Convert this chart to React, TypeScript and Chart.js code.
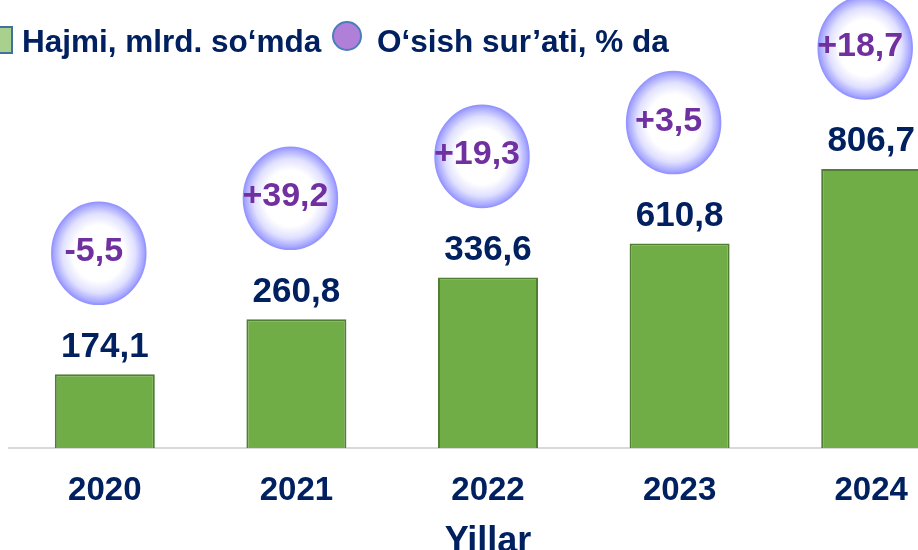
import React, { useEffect, useRef } from "react";
import { Chart, registerables } from "chart.js";

Chart.register(...registerables);

// ---- data ----
const years = ["2020", "2021", "2022", "2023", "2024"];
const volumeValues = [174.1, 260.8, 336.6, 610.8, 806.7]; // labels, mlrd. so'm
// heights of the bars as drawn in the source slide (it is not drawn to scale)
const barHeights = [213, 372, 493, 591, 806.7];
const growthRates = [-5.5, 39.2, 19.3, 3.5, 18.7]; // %
const legendLabels = ["Hajmi, mlrd. so\u2018mda", "O\u2018sish sur\u2019ati, % da"];
const axisTitle = "Yillar";

const FONT = '"Liberation Sans", Arial, Helvetica, sans-serif';
const NAVY = "#002060";
const PURPLE = "#7030A0";
const W = 975;
const H = 560;

const fmt = (v: number) => v.toFixed(1).replace(".", ",");
const fmtSigned = (v: number) => (v > 0 ? "+" : "") + fmt(v);

const overlayPlugin = {
  id: "overlay",
  afterDatasetsDraw(chart: any) {
    const ctx = chart.ctx as CanvasRenderingContext2D;
    const meta = chart.getDatasetMeta(0);
    meta.data.forEach((bar: any, i: number) => {
      const x = bar.x;
      const top = bar.y;
      ctx.save();
      // value label
      ctx.font = `bold 35px ${FONT}`;
      ctx.fillStyle = NAVY;
      ctx.textAlign = "center";
      ctx.textBaseline = "alphabetic";
      ctx.fillText(fmt(volumeValues[i]), x, top - 30 + 12.5);

      // growth bubble
      const cx = x - 6;
      const cy = top - 121;
      const rx = 47;
      const ry = 51;
      ctx.save();
      ctx.translate(cx, cy);
      ctx.scale(1, ry / rx);
      const g = ctx.createRadialGradient(0, 0, 0, 0, 0, rx);
      g.addColorStop(0, "#FFFFFF");
      g.addColorStop(0.55, "#FFFFFF");
      g.addColorStop(0.78, "#E0E0FF");
      g.addColorStop(0.93, "#B0B0FF");
      g.addColorStop(1, "#9898FF");
      ctx.beginPath();
      ctx.arc(0, 0, rx, 0, Math.PI * 2);
      ctx.fillStyle = g;
      ctx.fill();
      ctx.lineWidth = 1.5;
      ctx.strokeStyle = "#9595FF";
      ctx.stroke();
      ctx.restore();

      ctx.font = `bold 34px ${FONT}`;
      ctx.fillStyle = PURPLE;
      ctx.textAlign = "center";
      ctx.fillText(fmtSigned(growthRates[i]), cx - 5, cy - 4 + 12);
      ctx.restore();
    });
  },
  afterDraw(chart: any) {
    const ctx = chart.ctx as CanvasRenderingContext2D;
    ctx.save();
    // legend item 1: square
    ctx.fillStyle = "#A9D18E";
    ctx.strokeStyle = "#41719C";
    ctx.lineWidth = 2;
    ctx.fillRect(-14, 27, 26, 26);
    ctx.strokeRect(-14, 27, 26, 26);
    ctx.font = `bold 31.5px ${FONT}`;
    ctx.fillStyle = NAVY;
    ctx.textAlign = "left";
    ctx.textBaseline = "alphabetic";
    ctx.fillText(legendLabels[0], 22, 52);
    // legend item 2: circle
    ctx.beginPath();
    ctx.arc(347, 36, 14, 0, Math.PI * 2);
    ctx.fillStyle = "#B07FD8";
    ctx.fill();
    ctx.strokeStyle = "#4A7EBB";
    ctx.lineWidth = 2;
    ctx.stroke();
    ctx.fillStyle = NAVY;
    ctx.fillText(legendLabels[1], 377, 52);
    ctx.restore();
  },
};

export default function App() {
  const ref = useRef<HTMLCanvasElement | null>(null);

  useEffect(() => {
    if (!ref.current) return;
    const chart = new Chart(ref.current, {
      type: "bar",
      data: {
        labels: years,
        datasets: [
          {
            label: legendLabels[0],
            data: barHeights,
            backgroundColor: "#70AD47",
            borderColor: "#507E32",
            borderWidth: 2,
            barPercentage: 0.522,
            categoryPercentage: 1,
          },
        ],
      },
      options: {
        responsive: false,
        animation: false,
        devicePixelRatio: 1,
        layout: { padding: { left: 9, right: 8, top: 102, bottom: 0 } },
        plugins: {
          legend: { display: false },
          tooltip: { enabled: false },
        },
        scales: {
          x: {
            grid: { display: false, drawTicks: false },
            border: { display: true, color: "#D9D9D9", width: 2 },
            ticks: {
              color: NAVY,
              padding: 26,
              font: { family: FONT, size: 33, weight: "bold", lineHeight: 1 },
            },
            title: {
              display: true,
              text: axisTitle,
              color: NAVY,
              padding: { top: -9, bottom: 0 },
              font: { family: FONT, size: 36, weight: "bold", lineHeight: 1 },
            },
          },
          y: {
            display: false,
            min: 0,
            max: 1000,
          },
        },
      },
      plugins: [overlayPlugin],
    });
    return () => chart.destroy();
  }, []);

  return (
    <div
      style={{
        position: "fixed",
        left: 0,
        top: 0,
        width: 918,
        height: 550,
        overflow: "hidden",
        background: "#FFFFFF",
      }}
    >
      <canvas ref={ref} width={W} height={H} style={{ display: "block", width: W, height: H }} />
    </div>
  );
}
